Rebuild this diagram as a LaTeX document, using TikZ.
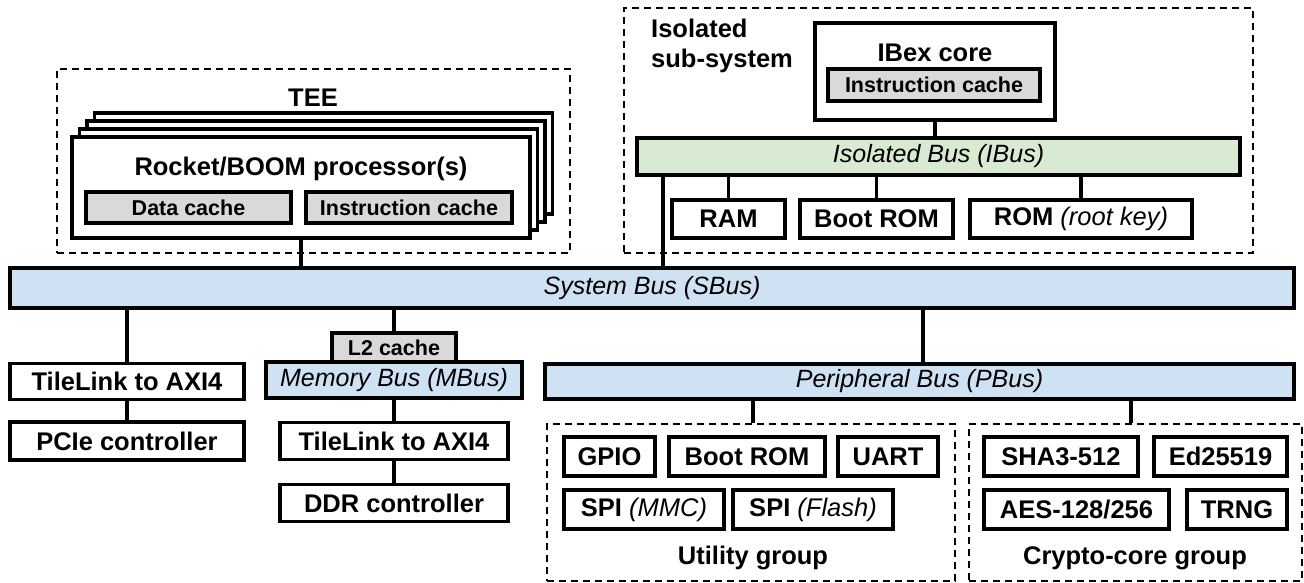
\documentclass[tikz,border=0pt]{standalone}
\usepackage{fontspec}
\setmainfont{Liberation Sans}
\definecolor{busblue}{HTML}{CFE2F3}
\definecolor{busgreen}{HTML}{D9EAD3}
\definecolor{cachegray}{HTML}{D9D9D9}
\tikzset{
  box/.style={draw, line width=3.2pt, rectangle, inner sep=0pt, fill=white,
    font=\fontsize{25.5}{30}\selectfont\bfseries},
  cachebox/.style={box, fill=cachegray, font=\fontsize{21.5}{25}\selectfont\bfseries},
  bus/.style={box, fill=busblue, font=\fontsize{25}{30}\selectfont\itshape},
  ibusbox/.style={bus, fill=busgreen},
  group/.style={draw, line width=1.5pt, dash pattern=on 7pt off 5pt, rectangle, inner sep=0pt},
  link/.style={line width=3.2pt},
  ttl/.style={inner sep=0pt, font=\fontsize{25.5}{30}\selectfont\bfseries}
}
\newcommand\nb[1]{{\mdseries\itshape #1}}
\begin{document}
\begin{tikzpicture}[x=1pt,y=-1pt]
\useasboundingbox (0,0) rectangle (1304,583);
% TEE
\node[group, minimum width=513, minimum height=184] (tee) at (313.5,161) {};
\node[ttl] (teelabel) at (313,98) {TEE};
\node[box, minimum width=458, minimum height=101] (back3) at (323.5,163.5) {};
\node[box, minimum width=458, minimum height=101] (back2) at (316,171.5) {};
\node[box, minimum width=458, minimum height=101] (back1) at (308.5,179.5) {};
\node[box, minimum width=458, minimum height=101] (proc) at (301,187.5) {};
\node[ttl] (proctitle) at (301,169) {Rocket/BOOM processor(s)};
\node[cachebox, minimum width=205, minimum height=31] (dcache) at (188.5,207.5) {Data cache};
\node[cachebox, minimum width=206, minimum height=31] (icache) at (409,207.5) {Instruction cache};
% Isolated sub-system
\node[group, minimum width=629, minimum height=245] (iso) at (938.5,130.5) {};
\node[ttl, anchor=north west, align=left] (isolabel) at (651,19) {Isolated\\sub-system};
\node[box, minimum width=240, minimum height=97] (ibex) at (935,71.5) {};
\node[ttl] (ibextitle) at (935,53) {IBex core};
\node[cachebox, minimum width=212, minimum height=32] (ibexcache) at (934,85) {Instruction cache};
\node[ibusbox, minimum width=603, minimum height=37] (ibus) at (938.5,156.5) {Isolated Bus (IBus)};
\node[box, minimum width=113, minimum height=38] (ram) at (728.5,219) {RAM};
\node[box, minimum width=153, minimum height=38] (iboot) at (876.5,219) {Boot ROM};
\node[box, minimum width=222, minimum height=38] (rom) at (1081,219) {ROM \nb{(root key)}};
\coordinate (isb) at (663,175);
% System bus
\node[bus, minimum width=1284, minimum height=40] (sbus) at (652,288) {System Bus (SBus)};
% Left column
\node[box, minimum width=234, minimum height=36] (tl1) at (127,381.5) {TileLink to AXI4};
\node[box, minimum width=234, minimum height=38] (pcie) at (127,441) {PCIe controller};
% Middle column
\node[cachebox, minimum width=124, minimum height=29] (l2) at (394,347.5) {L2 cache};
\node[bus, minimum width=256, minimum height=36] (mbus) at (394,380) {Memory Bus (MBus)};
\node[box, minimum width=228, minimum height=37] (tl2) at (394,441) {TileLink to AXI4};
\node[box, minimum width=228, minimum height=37] (ddr) at (394,503) {DDR controller};
% Peripheral bus
\node[bus, minimum width=749, minimum height=35] (pbus) at (919.5,381.5) {Peripheral Bus (PBus)};
\coordinate (pj) at (923,363.5);
\coordinate (uj) at (753,399);
\coordinate (cj) at (1131,399);
% Utility group
\node[group, minimum width=408, minimum height=157] (util) at (751,502.5) {};
\node[box, minimum width=91, minimum height=39] (gpio) at (609.5,456.5) {GPIO};
\node[box, minimum width=156, minimum height=39] (uboot) at (747,456.5) {Boot ROM};
\node[box, minimum width=100, minimum height=39] (uart) at (888,456.5) {UART};
\node[box, minimum width=160, minimum height=39] (spimmc) at (644,509.5) {SPI \nb{(MMC)}};
\node[box, minimum width=160, minimum height=39] (spiflash) at (813,509.5) {SPI \nb{(Flash)}};
\node[ttl] (utillabel) at (753,558) {Utility group};
% Crypto group
\node[group, minimum width=333, minimum height=157] (crypto) at (1135.5,502.5) {};
\node[box, minimum width=154, minimum height=39] (sha) at (1061,456.5) {SHA3-512};
\node[box, minimum width=133, minimum height=39] (ed) at (1220.5,456.5) {Ed25519};
\node[box, minimum width=185, minimum height=39] (aes) at (1076.5,509.5) {AES-128/256};
\node[box, minimum width=100, minimum height=39] (trng) at (1237,509.5) {TRNG};
\node[ttl] (cryptolabel) at (1135,558) {Crypto-core group};
% connectors
\draw[link] (proc.south) -- (proc.south |- sbus.north);
\draw[link] (ibex.south) -- (ibex.south |- ibus.north);
\draw[link] (ram.north) -- (ram.north |- ibus.south);
\draw[link] (iboot.north) -- (iboot.north |- ibus.south);
\draw[link] (rom.north) -- (rom.north |- ibus.south);
\draw[link] (isb) -- (isb |- sbus.north);
\draw[link] (tl1.north) -- (tl1.north |- sbus.south);
\draw[link] (tl1.south) -- (pcie.north);
\draw[link] (l2.north) -- (l2.north |- sbus.south);
\draw[link] (mbus.south) -- (tl2.north);
\draw[link] (tl2.south) -- (ddr.north);
\draw[link] (pj) -- (pj |- sbus.south);
\draw[link] (uj) -- (uj |- util.north);
\draw[link] (cj) -- (cj |- crypto.north);
\end{tikzpicture}
\end{document}
